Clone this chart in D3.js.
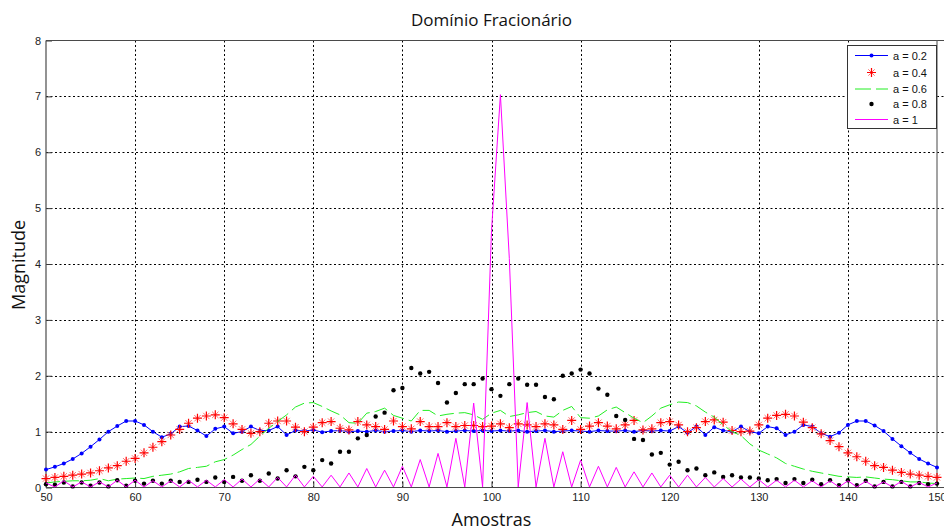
<!DOCTYPE html>
<html>
<head>
<meta charset="utf-8">
<script src="https://cdn.jsdelivr.net/npm/d3@7/dist/d3.min.js"></script>
<style>
  body { margin: 0; background: #fff; }
  svg { display: block; }
</style>
</head>
<body>
<svg id="chart" width="944" height="530"></svg>
<script>
// Sample indices shown on the horizontal axis
const samples = d3.range(50, 151);

// Magnitude of the fractional-domain transform for each order a
const magA02 = [0.32,0.37,0.43,0.51,0.61,0.73,0.86,1.00,1.10,1.19,1.19,1.12,1.00,0.90,0.96,1.09,1.10,1.02,0.92,1.05,
  1.09,0.97,1.00,1.09,1.02,1.02,1.09,0.94,1.02,1.01,1.03,0.99,1.01,1.02,1.00,1.01,1.00,1.02,1.00,1.01,
  1.02,1.00,1.02,1.01,1.02,1.00,1.01,1.02,1.01,1.02,1.01,1.02,1.01,1.02,1.00,1.01,1.02,1.00,1.01,1.02,
  1.01,1.00,1.02,1.01,1.01,1.02,1.00,1.02,1.01,1.02,1.01,1.09,0.98,1.09,0.94,1.08,1.02,1.00,1.09,1.00,
  0.97,1.09,1.06,0.94,1.00,1.12,1.09,0.97,0.91,0.98,1.12,1.19,1.19,1.11,1.01,0.87,0.74,0.62,0.51,0.43,0.36];

const magA04 = [0.16,0.18,0.20,0.22,0.24,0.26,0.30,0.35,0.39,0.47,0.52,0.62,0.72,0.82,0.94,1.04,1.15,1.24,1.28,1.30,
  1.25,1.14,1.04,0.97,1.00,1.15,1.19,1.19,1.08,1.00,1.08,1.16,1.18,1.06,1.03,1.18,1.12,1.09,1.04,1.19,
  1.09,1.05,1.18,1.09,1.09,1.16,1.09,1.11,1.11,1.09,1.10,1.14,1.07,1.14,1.12,1.09,1.14,1.12,1.04,1.20,
  1.04,1.10,1.16,1.10,1.05,1.12,1.20,1.03,1.05,1.16,1.18,1.12,1.00,1.07,1.18,1.21,1.17,1.02,1.00,1.01,
  1.12,1.24,1.29,1.31,1.28,1.17,1.07,0.96,0.84,0.73,0.62,0.55,0.47,0.39,0.36,0.31,0.27,0.24,0.22,0.20,0.18];

const magA06 = [0.08,0.10,0.11,0.12,0.12,0.13,0.16,0.12,0.15,0.16,0.17,0.16,0.20,0.22,0.24,0.28,0.34,0.36,0.38,0.46,
  0.50,0.58,0.68,0.77,0.92,1.06,1.18,1.30,1.44,1.51,1.52,1.45,1.37,1.30,1.16,1.15,1.33,1.36,1.42,1.29,
  1.24,1.19,1.38,1.38,1.28,1.31,1.33,1.34,1.30,1.22,1.33,1.38,1.27,1.30,1.34,1.36,1.28,1.26,1.38,1.45,
  1.25,1.24,1.28,1.39,1.44,1.34,1.24,1.16,1.28,1.42,1.48,1.53,1.52,1.46,1.35,1.26,1.12,1.00,0.93,0.78,
  0.67,0.60,0.53,0.43,0.38,0.33,0.29,0.26,0.23,0.20,0.19,0.18,0.19,0.17,0.15,0.14,0.12,0.10,0.10,0.08,0.07];

const magA08 = [0.06,0.05,0.09,0.02,0.09,0.03,0.09,0.02,0.13,0.03,0.12,0.07,0.12,0.07,0.12,0.10,0.10,0.14,0.10,0.18,
  0.10,0.19,0.12,0.22,0.12,0.25,0.16,0.31,0.20,0.37,0.31,0.49,0.43,0.64,0.64,0.88,0.94,1.27,1.34,1.74,
  1.78,2.14,2.04,2.07,1.87,1.52,1.69,1.85,1.85,1.95,1.76,1.64,1.85,1.95,1.84,1.84,1.62,1.58,2.00,2.04,
  2.11,2.04,1.77,1.66,1.28,1.21,0.87,0.85,0.59,0.62,0.41,0.46,0.31,0.34,0.22,0.27,0.19,0.22,0.18,0.18,
  0.16,0.13,0.15,0.08,0.15,0.08,0.14,0.06,0.13,0.04,0.13,0.04,0.12,0.02,0.10,0.02,0.10,0.02,0.08,0.06,0.07];

const magA1 = [0.08,0.01,0.12,0.01,0.10,0.01,0.10,0.01,0.13,0.01,0.13,0.01,0.12,0.01,0.12,0.01,0.13,0.01,0.13,0.01,
  0.14,0.01,0.15,0.01,0.15,0.01,0.18,0.01,0.22,0.01,0.20,0.01,0.22,0.01,0.26,0.01,0.34,0.01,0.31,0.01,
  0.38,0.01,0.50,0.01,0.61,0.01,0.88,0.01,1.51,0.01,4.60,7.03,4.10,0.01,1.52,0.01,0.88,0.01,0.64,0.01,
  0.49,0.01,0.38,0.01,0.36,0.01,0.28,0.01,0.26,0.01,0.22,0.01,0.22,0.01,0.18,0.01,0.16,0.01,0.15,0.01,
  0.14,0.01,0.13,0.01,0.13,0.01,0.12,0.01,0.12,0.01,0.12,0.01,0.11,0.01,0.10,0.01,0.11,0.01,0.09,0.01,0.08];

const seriesLabels = ["a = 0.2", "a = 0.4", "a = 0.6", "a = 0.8", "a = 1"];
const xTicks = [50, 60, 70, 80, 90, 100, 110, 120, 130, 140, 150];
const yTicks = [0, 1, 2, 3, 4, 5, 6, 7, 8];

const svg = d3.select("#chart");
const W = 944, H = 530;
const plot = { left: 46, right: 937, top: 40.5, bottom: 487.5 };

const x = d3.scaleLinear().domain([50, 150]).range([plot.left, plot.right]);
const y = d3.scaleLinear().domain([0, 8]).range([plot.bottom, plot.top]);

svg.append("rect").attr("width", W).attr("height", H).attr("fill", "#fff");

// Dotted grid
const grid = svg.append("g").attr("class", "grid")
  .attr("stroke", "#000").attr("stroke-width", 1).attr("stroke-dasharray", "2,2.5");
grid.selectAll("line.v").data(xTicks.slice(1, -1)).join("line")
  .attr("class", "v")
  .attr("x1", d => Math.round(x(d)) + 0.5).attr("x2", d => Math.round(x(d)) + 0.5)
  .attr("y1", plot.top).attr("y2", plot.bottom);
grid.selectAll("line.h").data(yTicks.slice(1, -1)).join("line")
  .attr("class", "h")
  .attr("x1", plot.left).attr("x2", W)
  .attr("y1", d => Math.round(y(d)) + 0.5).attr("y2", d => Math.round(y(d)) + 0.5);

// Axes with inward ticks
const xAxis = d3.axisBottom(x).tickValues(xTicks).tickSizeInner(-6).tickSizeOuter(0).tickPadding(6);
const yAxis = d3.axisLeft(y).tickValues(yTicks).tickSizeInner(-6).tickSizeOuter(0).tickPadding(5);

const gx = svg.append("g").attr("transform", `translate(0,${plot.bottom})`).call(xAxis);
const gy = svg.append("g").attr("transform", `translate(${plot.left},0)`).call(yAxis);
[gx, gy].forEach(g => {
  g.select(".domain").remove();
  g.selectAll(".tick line").attr("stroke", "#3a3a3a");
  g.selectAll(".tick text").attr("fill", "#222")
    .style("font-family", "'Liberation Sans', Arial, sans-serif").style("font-size", "11px");
});

// Plot frame
const frame = svg.append("g").attr("stroke", "#4a4a4a").attr("stroke-width", 1.2).attr("fill", "none");
frame.append("line").attr("x1", plot.left).attr("x2", W).attr("y1", plot.top).attr("y2", plot.top);
frame.append("line").attr("x1", plot.left).attr("x2", W).attr("y1", plot.bottom).attr("y2", plot.bottom);
frame.append("line").attr("x1", plot.left).attr("x2", plot.left).attr("y1", plot.top).attr("y2", plot.bottom);
frame.append("line").attr("x1", plot.right).attr("x2", plot.right).attr("y1", plot.top).attr("y2", plot.bottom)
  .attr("stroke", "#666");

// Series
const rows = samples.map((s, i) => ({ s, a02: magA02[i], a04: magA04[i], a06: magA06[i], a08: magA08[i], a1: magA1[i] }));
const lineFor = key => d3.line().x(d => x(d.s)).y(d => y(d[key]));
const data = svg.append("g");

// a = 0.2 : blue line with dot markers
data.append("path").datum(rows).attr("d", lineFor("a02"))
  .attr("fill", "none").attr("stroke", "#0000ff").attr("stroke-width", 1);
data.append("g").selectAll("circle").data(rows).join("circle")
  .attr("cx", d => x(d.s)).attr("cy", d => y(d.a02)).attr("r", 2).attr("fill", "#0000ff");

// a = 0.4 : red asterisk markers (plus drawn bold, diagonals lighter)
const plusPath = r => `M${-r},0L${r},0M0,${-r}L0,${r}`;
const crossPath = r => { const k = r * 0.7; return `M${-k},${-k}L${k},${k}M${-k},${k}L${k},${-k}`; };
const stars = data.append("g").selectAll("g").data(rows).join("g")
  .attr("transform", d => `translate(${x(d.s)},${y(d.a04)})`);
stars.append("path").attr("d", crossPath(4.5)).attr("fill", "none")
  .attr("stroke", "#ff6a6a").attr("stroke-width", 1);
stars.append("path").attr("d", plusPath(4.5)).attr("fill", "none")
  .attr("stroke", "#ff0000").attr("stroke-width", 1.2);

// a = 0.6 : green dashed line
data.append("path").datum(rows).attr("d", lineFor("a06"))
  .attr("fill", "none").attr("stroke", "#22ee22").attr("stroke-width", 1).attr("stroke-dasharray", "14,5");

// a = 0.8 : black dot markers
data.append("g").selectAll("circle").data(rows).join("circle")
  .attr("cx", d => x(d.s)).attr("cy", d => y(d.a08)).attr("r", 2.2).attr("fill", "#000");

// a = 1 : magenta line
data.append("path").datum(rows).attr("d", lineFor("a1"))
  .attr("fill", "none").attr("stroke", "#ff00ff").attr("stroke-width", 1);

// Legend
const lg = svg.append("g");
const lgBox = { x: 847.5, y: 45.5, w: 89, h: 83 };
lg.append("rect").attr("x", lgBox.x).attr("y", lgBox.y).attr("width", lgBox.w).attr("height", lgBox.h)
  .attr("fill", "#fff").attr("stroke", "#333").attr("stroke-width", 1);
const lgY = [55.5, 72.5, 89, 104, 119.5];
const sx1 = 855, sx2 = 888, smid = (sx1 + sx2) / 2;
seriesLabels.forEach((label, i) => {
  const yy = lgY[i];
  if (i === 0) {
    lg.append("line").attr("x1", sx1).attr("x2", sx2).attr("y1", yy).attr("y2", yy).attr("stroke", "#0000ff");
    lg.append("circle").attr("cx", smid).attr("cy", yy).attr("r", 2).attr("fill", "#0000ff");
  } else if (i === 1) {
    const st = lg.append("g").attr("transform", `translate(${smid},${yy})`);
    st.append("path").attr("d", crossPath(4.5)).attr("stroke", "#ff6a6a").attr("stroke-width", 1).attr("fill", "none");
    st.append("path").attr("d", plusPath(4.5)).attr("stroke", "#ff0000").attr("stroke-width", 1.2).attr("fill", "none");
  } else if (i === 2) {
    lg.append("line").attr("x1", sx1).attr("x2", sx2).attr("y1", yy).attr("y2", yy)
      .attr("stroke", "#22ee22").attr("stroke-dasharray", "16,5");
  } else if (i === 3) {
    lg.append("circle").attr("cx", smid).attr("cy", yy).attr("r", 2.2).attr("fill", "#000");
  } else {
    lg.append("line").attr("x1", sx1).attr("x2", sx2).attr("y1", yy).attr("y2", yy).attr("stroke", "#ff00ff");
  }
  lg.append("text").attr("x", 893).attr("y", yy + 4).text(label)
    .attr("fill", "#111").style("font-family", "'Liberation Sans', Arial, sans-serif").style("font-size", "11px");
});

// Titles
svg.append("text").attr("x", 491.5).attr("y", 26).attr("text-anchor", "middle")
  .style("font-family", "'Open Sans', sans-serif").style("font-size", "17px").attr("fill", "#111")
  .text("Domínio Fracionário");
svg.append("text").attr("x", 491.5).attr("y", 526).attr("text-anchor", "middle")
  .style("font-family", "'Open Sans', sans-serif").style("font-size", "18px").attr("fill", "#111")
  .text("Amostras");
svg.append("text").attr("transform", "translate(25,265) rotate(-90)").attr("text-anchor", "middle")
  .style("font-family", "'Open Sans', sans-serif").style("font-size", "18px").attr("fill", "#111")
  .text("Magnitude");
</script>
</body>
</html>
